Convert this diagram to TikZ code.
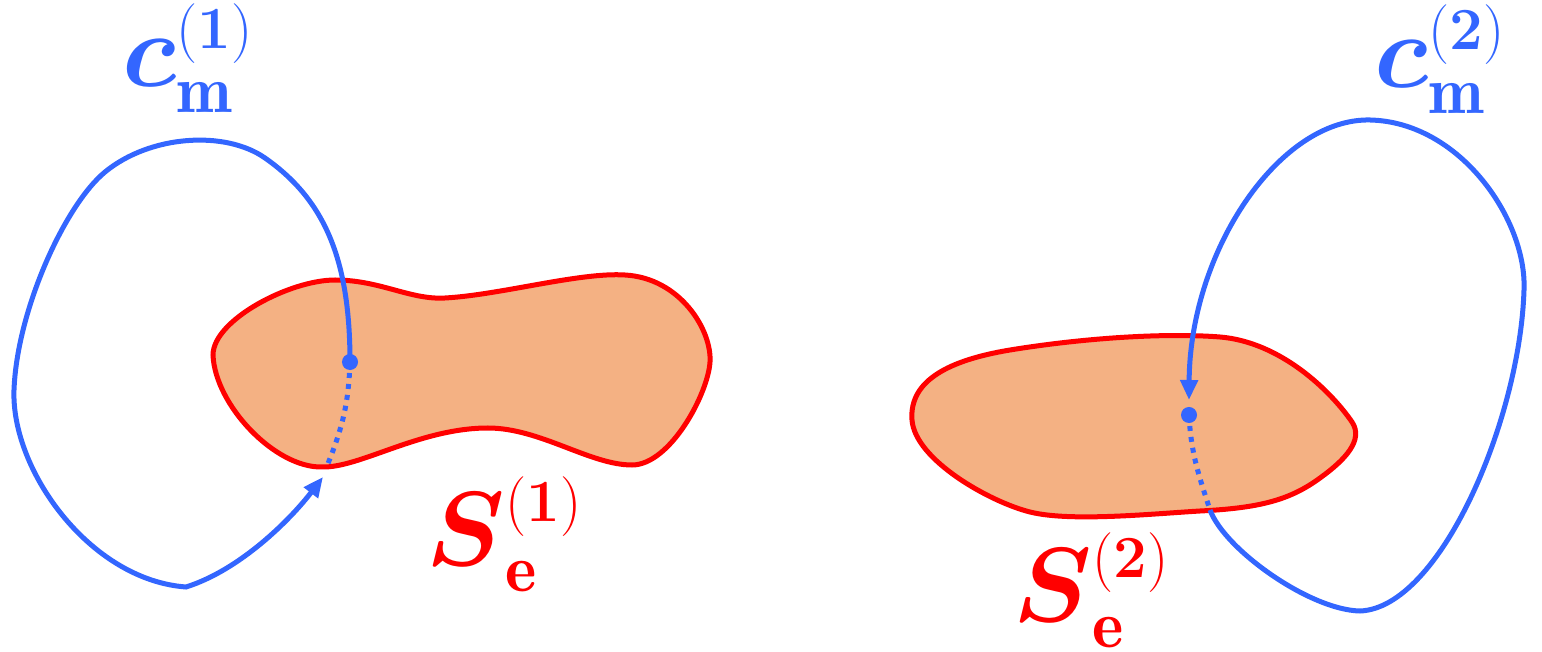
\RequirePackage{fix-cm}
\documentclass[tikz,border=0pt]{standalone}
\usepackage{amsmath}
\usepackage{tikz}
\usetikzlibrary{arrows.meta,positioning}
\definecolor{loopblue}{RGB}{51,102,255}
\definecolor{surfred}{RGB}{255,0,0}
\definecolor{surffill}{RGB}{244,177,131}
\newcommand{\symlabel}[3]{$\boldsymbol{#1}_{\mbox{\fontsize{19}{22}\fontseries{b}\selectfont #2}}^{\mbox{\fontsize{17}{20}\selectfont(\textbf{#3})}}$}

\begin{document}
\begin{tikzpicture}[x=0.01cm,y=-0.01cm,
  surf/.style={draw=surfred,fill=surffill,line width=0.05cm},
  loop/.style={draw=loopblue,line width=0.05cm},
  hidden/.style={loop,line cap=butt,dash pattern=on 0.05cm off 0.06cm},
  pierce/.style={circle,fill=loopblue,inner sep=0pt,minimum size=0.16cm},
  tip/.style={-{Triangle[length=0.2cm,width=0.17cm]}},
  lbl/.style={font=\fontsize{30}{36}\selectfont,inner sep=0pt}]
  \useasboundingbox (0,0) rectangle (1542,652);
  % Surfaces
  \draw[surf] (213,355) .. controls (213,320) and (290,280) .. (335,280)
    .. controls (380,280) and (410,300) .. (445,298)
    .. controls (500,295) and (580,272) .. (625,275)
    .. controls (680,278) and (712,330) .. (710,362)
    .. controls (708,394) and (670,465) .. (632,465)
    .. controls (590,465) and (540,428) .. (488,428)
    .. controls (420,428) and (360,468) .. (322,467)
    .. controls (275,468) and (215,405) .. (213,355) -- cycle;
  \draw[surf] (912,420) .. controls (909,380) and (950,360) .. (1010,350)
    .. controls (1090,337) and (1170,333) .. (1220,337)
    .. controls (1280,342) and (1330,390) .. (1352,422)
    .. controls (1364,440) and (1345,460) .. (1320,478)
    .. controls (1290,500) and (1260,508) .. (1200,511)
    .. controls (1150,514) and (1070,522) .. (1030,512)
    .. controls (990,502) and (915,460) .. (912,420) -- cycle;
  % Piercing points
  \node[pierce] (p1) at (350,362) {};
  \node[pierce] (p2) at (1189,415) {};
  \coordinate (e1) at (327,466);
  \coordinate (e2) at (1210,510);
  \coordinate (a1) at (323,477);
  \coordinate (a2) at (1189,400);
  % Loops
  \draw[loop,tip] (p1.center) .. controls (350,260) and (325,200) .. (265,158)
    .. controls (225,130) and (150,135) .. (105,172)
    .. controls (65,205) and (17,310) .. (14,390)
    .. controls (11,470) and (90,580) .. (186,587)
    .. controls (240,570) and (290,520) .. (a1);
  \draw[hidden] (p1.center) to[out=-92,in=68] (e1);
  \draw[loop,tip] (e2) .. controls (1225,550) and (1310,610) .. (1360,611)
    .. controls (1440,608) and (1520,420) .. (1524,290)
    .. controls (1527,220) and (1460,122) .. (1370,120)
    .. controls (1280,118) and (1190,250) .. (a2);
  \draw[hidden] (p2.center) to[out=-87,in=108] (e2);
  % Labels
  \node[lbl,text=loopblue] (c1) at (188,58) {\symlabel{c}{m}{1}};
  \node[lbl,text=loopblue] (c2) at (1440,59) {\symlabel{c}{m}{2}};
  \node[lbl,text=surfred] (s1) at (505,534) {\symlabel{S}{e}{1}};
  \node[lbl,text=surfred] (s2) at (1092,590) {\symlabel{S}{e}{2}};
\end{tikzpicture}
\end{document}
